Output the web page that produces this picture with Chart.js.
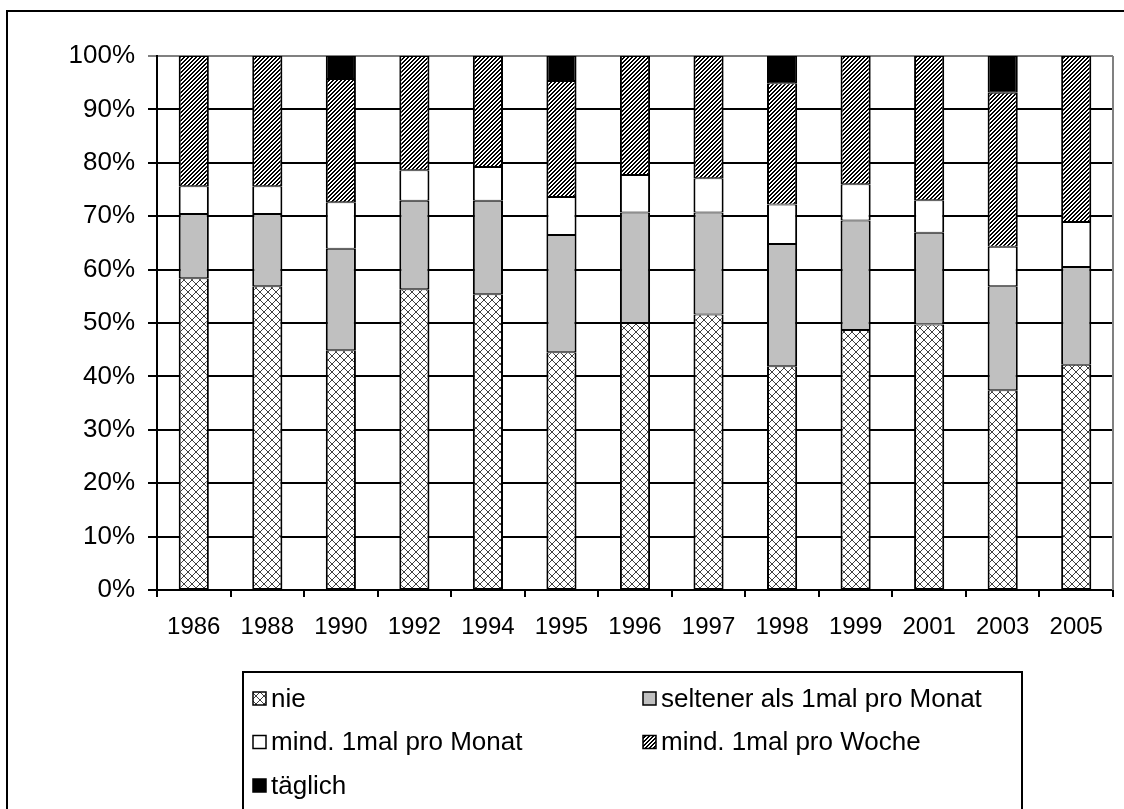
<!DOCTYPE html>
<html>
<head>
<meta charset="utf-8">
<script src="https://cdn.jsdelivr.net/npm/chart.js@4/dist/chart.umd.min.js"></script>
<style>
html,body{margin:0;padding:0;background:#fff;}
#wrap{width:1124px;height:809px;position:relative;}
</style>
</head>
<body>
<div id="wrap"><canvas id="c" width="1124" height="809"></canvas></div>
<script>
const categories = ['1986','1988','1990','1992','1994','1995','1996','1997','1998','1999','2001','2003','2005'];
const seriesNames = ['nie','seltener als 1mal pro Monat','mind. 1mal pro Monat','mind. 1mal pro Woche','täglich'];
const nie       = [58.4, 56.9, 44.9, 56.3, 55.4, 44.5, 50.0, 51.6, 41.9, 48.7, 49.7, 37.4, 42.2];
const seltener  = [12.0, 13.5, 19.0, 16.6, 17.5, 22.0, 20.7, 19.1, 22.9, 20.5, 17.2, 19.5, 18.3];
const monat     = [ 5.2,  5.2,  8.7,  5.7,  6.3,  7.1,  7.0,  6.4,  7.4,  6.8,  6.1,  7.4,  8.4];
const woche     = [24.4, 24.4, 23.1, 21.4, 20.8, 21.7, 22.3, 22.9, 22.7, 24.0, 27.0, 28.8, 31.1];
const taeglich  = [ 0,    0,    4.3,  0,    0,    4.7,  0,    0,    5.1,  0,    0,    6.9,  0  ];
const yTickValues = [0,10,20,30,40,50,60,70,80,90,100];

function crossPattern(){
  const c=document.createElement('canvas'); c.width=8; c.height=8;
  const g=c.getContext('2d');
  g.fillStyle='#fff'; g.fillRect(0,0,8,8);
  g.strokeStyle='#404040'; g.lineWidth=1;
  g.beginPath();
  g.moveTo(0,0); g.lineTo(8,8);
  g.moveTo(8,0); g.lineTo(0,8);
  g.stroke();
  return g.createPattern(c,'repeat');
}
function stripePattern(){
  const c=document.createElement('canvas'); c.width=4; c.height=4;
  const g=c.getContext('2d');
  g.fillStyle='#fff'; g.fillRect(0,0,4,4);
  g.fillStyle='#000';
  for(let y=0;y<4;y++){for(let x=0;x<4;x++){ if(((x+y)%4)<2) g.fillRect(x,y,1,1); }}
  return g.createPattern(c,'repeat');
}
const fills=[crossPattern(),'#c0c0c0','#ffffff',stripePattern(),'#000000'];
const values=[nie,seltener,monat,woche,taeglich];

const datasets=seriesNames.map((n,i)=>({
  label:n, data:values[i], backgroundColor:fills[i],
  borderColor:'#000', borderWidth:{top:1,bottom:1,left:2,right:2}, borderSkipped:false,
  barPercentage:0.41, categoryPercentage:1.0
}));

const framePlugin={
  id:'frame',
  beforeDraw(chart){
    const ctx=chart.ctx;
    ctx.save();
    ctx.fillStyle='#fff'; ctx.fillRect(0,0,chart.width,chart.height);
    ctx.strokeStyle='#000'; ctx.lineWidth=2;
    ctx.strokeRect(7,11,1130,820);
    ctx.restore();
  },
  afterDraw(chart){
    const ctx=chart.ctx, a=chart.chartArea;
    ctx.save();
    ctx.strokeStyle='#808080'; ctx.lineWidth=2;
    ctx.beginPath(); ctx.moveTo(a.right,a.top); ctx.lineTo(a.right,a.bottom); ctx.stroke();
    // legend
    const lx=243, ly=672, lw=779, lh=140;
    ctx.strokeStyle='#000'; ctx.lineWidth=2;
    ctx.strokeRect(lx,ly,lw,lh);
    const pos=[[253,698.5],[643,698.5],[253,742],[643,742],[253,785.5]];
    ctx.font='26px "Liberation Sans", Arial, sans-serif';
    ctx.textBaseline='middle';
    chart.data.datasets.forEach((ds,i)=>{
      const [x,y]=pos[i];
      ctx.fillStyle=ds.backgroundColor;
      ctx.fillRect(x,y-6.5,13,13);
      ctx.strokeStyle='#000'; ctx.lineWidth=1.5;
      ctx.strokeRect(x,y-6.5,13,13);
      ctx.fillStyle='#000';
      ctx.fillText(ds.label,x+18,y+1);
    });
    ctx.restore();
  }
};

new Chart(document.getElementById('c'),{
  type:'bar',
  data:{labels:categories,datasets},
  options:{
    responsive:false, animation:false,
    layout:{padding:{top:56,right:11,bottom:159,left:0}},
    plugins:{legend:{display:false},tooltip:{enabled:false}},
    scales:{
      x:{
        stacked:true, offset:true,
        grid:{display:true,offset:true,drawOnChartArea:false,drawTicks:true,tickLength:7,color:'#000',lineWidth:2},
        border:{display:true,color:'#000',width:2},
        ticks:{color:'#000',padding:16,font:{family:'"Liberation Sans", Arial, sans-serif',size:24},maxRotation:0,autoSkip:false},
        afterFit(s){s.height=60;}
      },
      y:{
        stacked:true, min:0, max:100,
        afterBuildTicks(s){s.ticks=yTickValues.map(v=>({value:v}));},
        grid:{color:c=>c.tick&&c.tick.value===100?'#808080':'#000',lineWidth:2,tickLength:9,drawTicks:true},
        border:{display:true,color:'#000',width:2},
        ticks:{color:'#000',padding:13,font:{family:'"Liberation Sans", Arial, sans-serif',size:26},callback:v=>v+'%'},
        afterFit(s){s.width=157;}
      }
    }
  },
  plugins:[framePlugin]
});
</script>
</body>
</html>
